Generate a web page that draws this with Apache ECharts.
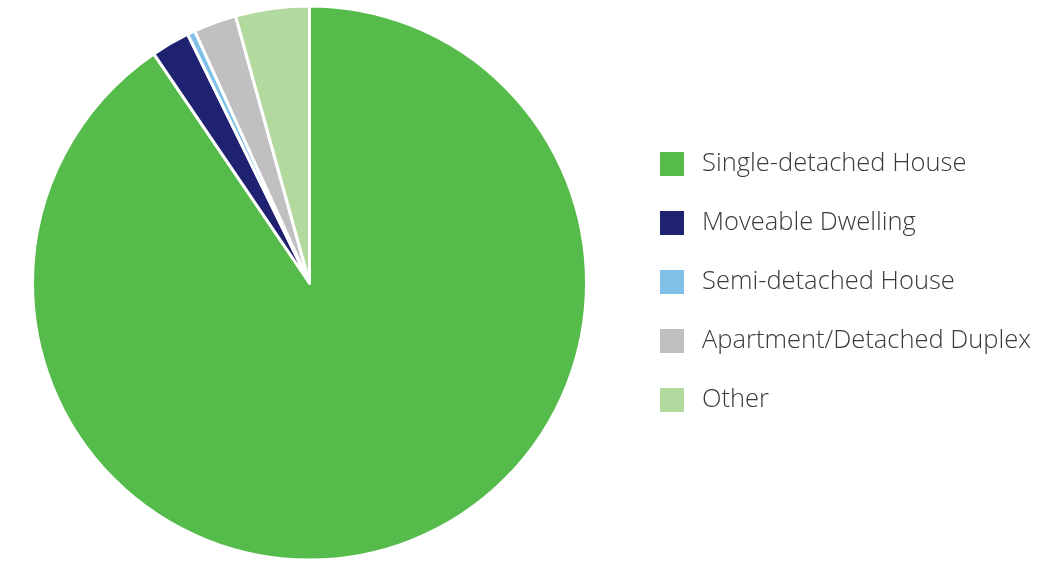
<!DOCTYPE html>
<html>
<head>
<meta charset="utf-8">
<script src="https://cdn.jsdelivr.net/npm/echarts@6/dist/echarts.min.js"></script>
<style>html,body{margin:0;padding:0;background:#fff}#c{width:1041px;height:561px}</style>
</head>
<body>
<div id="c"></div>
<script>
const categories = ["Single-detached House", "Moveable Dwelling", "Semi-detached House", "Apartment/Detached Duplex", "Other"];
const values = [90.5, 2.25, 0.45, 2.5, 4.3];
const colors = ["#55BB4A", "#1F2270", "#7EC0E8", "#C0C0C2", "#B3DA9E"];

const chart = echarts.init(document.getElementById('c'), null, {renderer: 'canvas'});
chart.setOption({
  animation: false,
  legend: {
    orient: 'vertical',
    left: 653,
    top: 145,
    itemWidth: 26,
    itemHeight: 26,
    itemGap: 31,
    icon: 'rect',
    data: categories,
    textStyle: {
      fontFamily: 'Open Sans',
      fontWeight: 300,
      fontSize: 25.5,
      lineHeight: 26,
      height: 26,
      color: '#3a3a3a',
      padding: [0, 0, 0, 12]
    }
  },
  series: [{
    type: 'pie',
    center: [309.5, 283],
    radius: 277,
    startAngle: 90,
    clockwise: true,
    label: {show: false},
    labelLine: {show: false},
    emphasis: {disabled: true},
    itemStyle: {borderColor: '#ffffff', borderWidth: 3},
    data: categories.map((n, i) => ({name: n, value: values[i], itemStyle: {color: colors[i]}}))
  }]
});
</script>
</body>
</html>
